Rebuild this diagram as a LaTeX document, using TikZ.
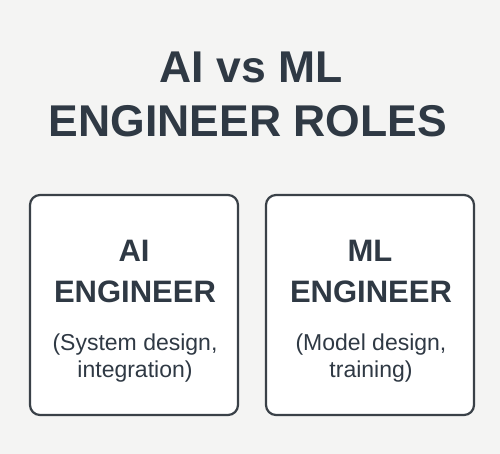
\documentclass[tikz,border=0pt]{standalone}
\usepackage{fontspec}
\setmainfont{Liberation Sans}
\definecolor{bg}{HTML}{F4F4F3}
\definecolor{ink}{HTML}{2F3944}
\definecolor{edge}{HTML}{3A4148}
\begin{document}
\begin{tikzpicture}[x=1pt,y=-1pt,
  title/.style={font=\fontsize{44.5}{44.5}\selectfont\bfseries, text=ink, anchor=base, inner sep=0pt},
  head/.style={font=\fontsize{31}{31}\selectfont\bfseries, text=ink, anchor=base, inner sep=0pt},
  sub/.style={font=\fontsize{23}{23}\selectfont, text=ink, anchor=base, inner sep=0pt},
  card/.style={draw=edge, line width=2.2pt, fill=white, rounded corners=10pt}]
\fill[bg] (0,0) rectangle (500,454);
\useasboundingbox (0,0) rectangle (500,454);
\node[title] (t1) at (251,83) {AI vs ML};
\node[title] (t2) at (248,137) {ENGINEER ROLES};
\draw[card] (30,195) rectangle (238,415);
\draw[card] (266,195) rectangle (474,415);
\node[head] (a1) at (134,261) {AI};
\node[head] (a2) at (135,302) {ENGINEER};
\node[sub] (a3) at (135,350) {(System design,};
\node[sub] (a4) at (135,377) {integration)};
\node[head] (b1) at (370,261) {ML};
\node[head] (b2) at (371,302) {ENGINEER};
\node[sub] (b3) at (371,350) {(Model design,};
\node[sub] (b4) at (371,377) {training)};
\end{tikzpicture}
\end{document}
